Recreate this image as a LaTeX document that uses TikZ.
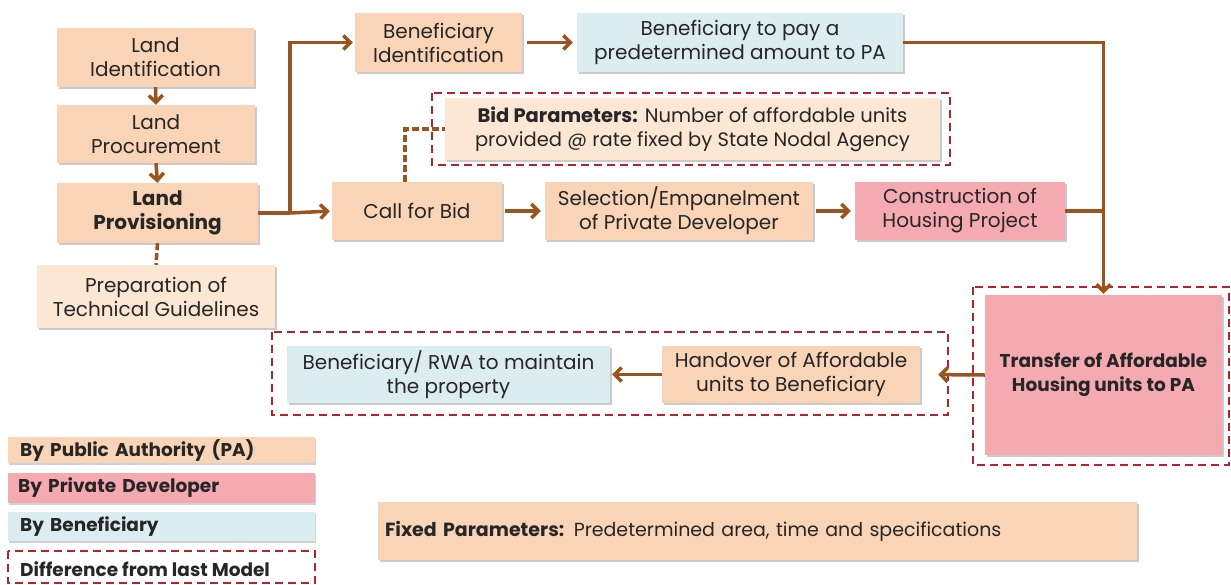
\documentclass[tikz,border=0pt]{standalone}
\usepackage{fontspec}
\setmainfont{Poppins}
\usetikzlibrary{arrows.meta,shadows,calc}
\definecolor{peach}{HTML}{F9D4B6}
\definecolor{lpeach}{HTML}{FCE6D4}
\definecolor{pinkc}{HTML}{F5A9B0}
\definecolor{bluec}{HTML}{DCEDF2}
\definecolor{brownc}{HTML}{9A5420}
\definecolor{redd}{HTML}{B3232E}
\tikzset{
  x=1pt,y=-1pt,
  bx/.style={fill=#1, draw=none, inner sep=0pt, align=center, text=black!85,
    font=\fontsize{20}{24}\selectfont,
    drop shadow={shadow xshift=1.5pt, shadow yshift=-2pt, opacity=0.35, fill=black!60}},
  lg/.style={fill=#1, draw=none, inner sep=0pt, anchor=west, text=black!85,
    font=\fontsize{18.5}{20}\selectfont\bfseries, text width=307pt, align=left,
    drop shadow={shadow xshift=1pt, shadow yshift=-1.5pt, opacity=0.3, fill=black!60}},
  flow/.style={draw=brownc, line width=3.5pt, -{Straight Barb[length=7pt,width=14pt,line width=3.5pt]}},
  line/.style={draw=brownc, line width=3.5pt},
  dline/.style={draw=brownc, line width=3.5pt, dash pattern=on 7pt off 3pt},
  diff/.style={draw=redd, line width=1.8pt, dash pattern=on 8pt off 5pt},
}
\begin{document}
\begin{tikzpicture}
\useasboundingbox (0,0) rectangle (1231,584);
% left column
\node[bx=peach, minimum width=197pt, minimum height=59pt] (landid) at (155.5,57.5) {Land\\Identification};
\node[bx=peach, minimum width=198pt, minimum height=58pt] (landproc) at (156,134) {Land\\Procurement};
\node[bx=peach, minimum width=201pt, minimum height=60pt, font=\fontsize{20}{24}\selectfont\bfseries] (landprov) at (157.5,213) {Land\\Provisioning};
\node[bx=lpeach, minimum width=238pt, minimum height=63pt] (prep) at (156,296.5) {Preparation of\\Technical Guidelines};
% top row
\node[bx=peach, minimum width=167pt, minimum height=59pt] (benid) at (438.5,42.5) {Beneficiary\\Identification};
\node[bx=bluec, minimum width=326pt, minimum height=59pt] (benpay) at (740,42.5) {Beneficiary to pay a\\predetermined amount to PA};
% bid parameters
\draw[diff] (432,93) rectangle (950,165);
\node[bx=lpeach, minimum width=495pt, minimum height=62pt, font=\fontsize{19.5}{24}\selectfont] (bid) at (692.5,129) {\textbf{Bid Parameters:} Number of affordable units\\provided @ rate fixed by State Nodal Agency};
% middle row
\node[bx=peach, minimum width=170pt, minimum height=58pt] (callbid) at (417,211) {Call for Bid};
\node[bx=peach, minimum width=268pt, minimum height=58pt] (select) at (679,211) {Selection/Empanelment\\of Private Developer};
\node[bx=pinkc, minimum width=210pt, minimum height=58pt] (constr) at (960,211) {Construction of\\Housing Project};
% transfer
\draw[diff] (973,287) rectangle (1229,465);
\node[bx=pinkc, minimum width=237pt, minimum height=160pt, font=\fontsize{18.5}{24}\selectfont\bfseries] (transfer) at (1103.5,375) {Transfer of Affordable\\Housing units to PA};
% bottom row
\draw[diff] (272,332) rectangle (948,415);
\node[bx=peach, minimum width=258pt, minimum height=57pt] (handover) at (791,374.5) {Handover of Affordable\\units to Beneficiary};
\node[bx=bluec, minimum width=323pt, minimum height=57pt] (rwa) at (448.5,374.5) {Beneficiary/ RWA to maintain\\the property};
% legend
\node[lg=peach, minimum height=26pt] (lpa) at (8,450) {\hspace*{12pt}By Public Authority (PA)};
\node[lg=pinkc, minimum height=30pt] (lpd) at (8,488) {\hspace*{10pt}By Private Developer};
\node[lg=bluec, minimum height=29pt] (lben) at (8,526.5) {\hspace*{12pt}By Beneficiary};
\draw[diff] (8,551) rectangle (315,583);
\node[anchor=west, inner sep=0pt, font=\fontsize{18.5}{20}\selectfont\bfseries, text=black!85] (ldiff) at (20,569) {Difference from last Model};
\node[bx=peach, minimum width=759pt, minimum height=58pt, text width=745pt, align=left, font=\fontsize{19}{22}\selectfont] (fixed) at (757.5,531) {\textbf{Fixed Parameters:} Predetermined area, time and specifications};
% connectors
\draw[flow] (landid.south) -- (landproc.north);
\draw[flow] (landproc.south) -- (landprov.north);
\draw[dline] (landprov.south) -- (prep.north);
\coordinate (j1) at (290,213);
\draw[line] (landprov.east) -- (j1);
\draw[flow, shorten >=2pt] (j1) -- (callbid.west);
\draw[flow, shorten >=2pt] (j1) |- (benid.west);
\draw[flow, shorten >=4pt, shorten <=5pt] (benid.east) -- (benpay.west);
\draw[flow, shorten >=4pt, shorten <=3pt] (callbid.east) -- (select.west);
\draw[flow, shorten >=4pt, shorten <=3pt] (select.east) -- (constr.west);
\coordinate (j2) at (1105,211);
\draw[line] (constr.east) -- (j2);
\draw[flow, shorten >=1pt] (benpay.east) -| (transfer.north);
\coordinate (cb) at (405,182);
\draw[dline] (cb) |- (bid.west);
\draw[flow, shorten >=18pt] (transfer.west) -- (handover.east);
\draw[flow, shorten >=2pt] (handover.west) -- (rwa.east);
\end{tikzpicture}
\end{document}
